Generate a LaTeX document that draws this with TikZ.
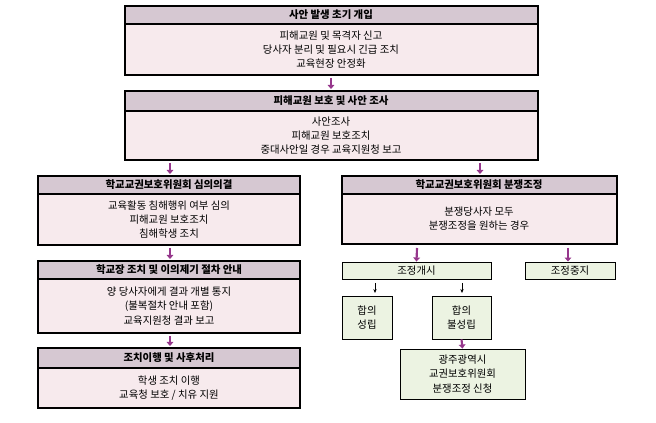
\documentclass[tikz,border=0pt]{standalone}
\usepackage{fontspec}
\setmainfont{Noto Sans CJK KR}
\usetikzlibrary{arrows.meta}
\definecolor{hdr}{RGB}{214,200,210}
\definecolor{bdy}{RGB}{247,234,237}
\definecolor{grn}{RGB}{236,243,226}
\definecolor{arr}{RGB}{150,55,140}
\tikzset{
 hbox/.style={draw=black,line width=0.8pt,fill=hdr},
 bbox/.style={draw=black,line width=0.8pt,fill=bdy},
 gbox/.style={draw=black,line width=0.7pt,fill=grn},
 ht/.style={font=\fontsize{7.8}{9}\selectfont\bfseries,inner sep=0pt},
 bt/.style={font=\fontsize{7.8}{10.6}\selectfont,align=center,inner sep=0pt},
 parr/.style={-{Triangle[width=5pt,length=3pt]},line width=1.6pt,draw=arr},
 tarr/.style={-{Stealth[width=2.5pt,length=3pt]},line width=0.4pt},
}
\begin{document}
\begin{tikzpicture}[x=0.75pt,y=-0.75pt]
\useasboundingbox (0,0) rectangle (656,423);
% box1
\draw[bbox] (125,24) rectangle (538,75);
\draw[hbox] (125,6) rectangle (538,24);
\node[ht] (h1) at (331,15) {사안 발생 초기 개입};
\node[bt] (b1) at (331,49.5) {피해교원 및 목격자 신고\\당사자 분리 및 필요시 긴급 조치\\교육현장 안정화};
% box2
\draw[bbox] (125,111) rectangle (538,160);
\draw[hbox] (125,91) rectangle (538,111);
\node[ht] (h2) at (331,101) {피해교원 보호 및 사안 조사};
\node[bt] (b2) at (331,135.5) {사안조사\\피해교원 보호조치\\중대사안일 경우 교육지원청 보고};
\coordinate (a1s) at (331,78); \coordinate (a1e) at (331,89);
\draw[parr] (a1s) -- (a1e);
% left column
\draw[bbox] (38,194) rectangle (300,245);
\draw[hbox] (38,176) rectangle (300,194);
\node[ht] (h3) at (169,185) {학교교권보호위원회 심의의결};
\node[bt] (b3) at (169,219.5) {교육활동 침해행위 여부 심의\\피해교원 보호조치\\침해학생 조치};
\draw[bbox] (38,279) rectangle (300,333);
\draw[hbox] (38,261) rectangle (300,279);
\node[ht] (h4) at (169,270) {학교장 조치 및 이의제기 절차 안내};
\node[bt] (b4) at (169,306) {양 당사자에게 결과 개별 통지\\(불복절차 안내 포함)\\교육지원청 결과 보고};
\draw[bbox] (38,368) rectangle (300,408);
\draw[hbox] (38,348) rectangle (300,368);
\node[ht] (h5) at (169,358) {조치이행 및 사후처리};
\node[bt] (b5) at (169,388) {학생 조치 이행\\교육청 보호 / 치유 지원};
\coordinate (l1s) at (170,163); \coordinate (l1e) at (170,174);
\coordinate (l2s) at (170,248); \coordinate (l2e) at (170,259);
\coordinate (l3s) at (170,336); \coordinate (l3e) at (170,346);
\draw[parr] (l1s) -- (l1e);
\draw[parr] (l2s) -- (l2e);
\draw[parr] (l3s) -- (l3e);
% right column
\draw[bbox] (342,194) rectangle (617,244);
\draw[hbox] (342,176) rectangle (617,194);
\node[ht] (h6) at (479,185) {학교교권보호위원회 분쟁조정};
\node[bt] (b6) at (479,219) {분쟁당사자 모두\\분쟁조정을 원하는 경우};
\coordinate (r1s) at (480,163); \coordinate (r1e) at (480,174);
\draw[parr] (r1s) -- (r1e);
\node[gbox,minimum width=149*0.75pt,minimum height=17*0.75pt,font=\fontsize{7.8}{9}\selectfont,inner sep=0pt] (g1) at (416.5,270.5) {조정개시};
\node[gbox,minimum width=90*0.75pt,minimum height=17*0.75pt,font=\fontsize{7.8}{9}\selectfont,inner sep=0pt] (g2) at (570,270.5) {조정중지};
\coordinate (r2s) at (417,248); \coordinate (r3s) at (568,248);
\draw[parr] (r2s) -- (g1.north);
\draw[parr] (r3s) -- (r3s|-g2.north);
\node[gbox,bt,minimum width=50*0.75pt,minimum height=43*0.75pt] (g3) at (367,317.5) {합의\\성립};
\node[gbox,bt,minimum width=59*0.75pt,minimum height=43*0.75pt] (g4) at (461.5,317.5) {합의\\불성립};
\coordinate (s1) at (375,283); \coordinate (s2) at (462,283);
\draw[tarr] (s1) -- (375,293);
\draw[tarr] (s2) -- (462,293);
\node[gbox,bt,minimum width=125*0.75pt,minimum height=50*0.75pt] (g5) at (462.5,374) {광주광역시\\교권보호위원회\\분쟁조정 신청};
\draw[parr] (g4.south) -- (g5.north);
\end{tikzpicture}
\end{document}
